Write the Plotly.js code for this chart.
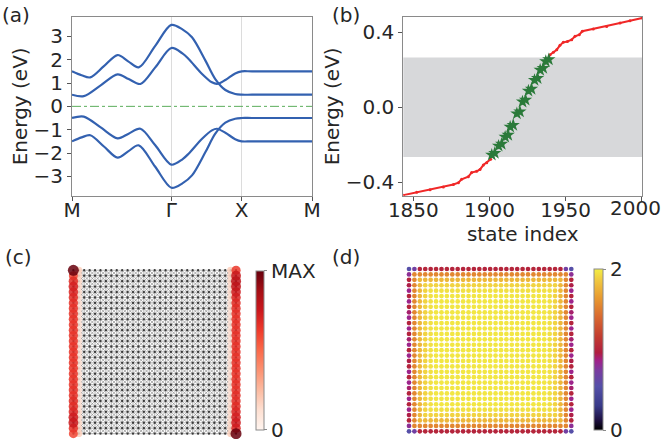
<!DOCTYPE html>
<html><head><meta charset="utf-8">
<script src="https://cdn.plot.ly/plotly-3.0.1.min.js"></script>
<style>html,body{margin:0;padding:0;background:#fff}#chart{width:664px;height:441px}</style>
</head><body><div id="chart"></div>
<script>
// ---------- (a) band structure along M-Γ-X-M ----------
const kTickVals = [0, 0.4142, 0.7071, 1.0];
const kTickText = ['M', 'Γ', 'X', 'M'];
const kBand1 = [0, 0.04, 0.076, 0.133, 0.19, 0.234, 0.278, 0.346, 0.414, 0.46, 0.5, 0.556, 0.597, 0.639, 0.68, 0.707, 0.75, 1.0];
const band1  = [1.50, 1.33, 1.24, 1.72, 2.20, 1.93, 1.67, 2.58, 3.49, 3.30, 2.96, 1.96, 1.17, 0.70, 0.53, 0.50, 0.50, 0.50];
const kBand2 = [0, 0.049, 0.118, 0.19, 0.236, 0.285, 0.347, 0.414, 0.46, 0.486, 0.542, 0.583, 0.604, 0.639, 0.68, 0.707, 0.75, 1.0];
const band2  = [0.50, 0.44, 0.89, 1.37, 1.17, 0.96, 1.67, 2.50, 2.27, 2.03, 1.39, 1.03, 0.96, 1.13, 1.41, 1.50, 1.50, 1.50];
const band3  = [-0.50, -0.44, -0.89, -1.37, -1.17, -0.96, -1.67, -2.50, -2.27, -2.03, -1.39, -1.03, -0.96, -1.13, -1.41, -1.50, -1.50, -1.50];
const band4  = [-1.50, -1.33, -1.24, -1.72, -2.20, -1.93, -1.67, -2.58, -3.49, -3.30, -2.96, -1.96, -1.17, -0.70, -0.53, -0.50, -0.50, -0.50];
const fermiLevel = 0;

// ---------- (b) eigen-energies vs state index ----------
const stateLow  = [1843.4, 1852.2, 1861, 1869.7, 1876.3, 1879.6, 1881.7, 1886.1, 1888.3, 1891.6, 1893.8, 1896, 1898.2, 1900.8];
const energyLow = [-0.468, -0.453, -0.439, -0.425, -0.411, -0.402, -0.384, -0.370, -0.348, -0.341, -0.331, -0.308, -0.295, -0.277];
const stateEdge  = [1901.5, 1903.5, 1906, 1908, 1910.3, 1912.3, 1913.6, 1915.6, 1918, 1920, 1921.7, 1923.7, 1925.6, 1927.6, 1929.6, 1931.6, 1933.3, 1935.3, 1937, 1939];
const energyEdge = [-0.254, -0.244, -0.206, -0.196, -0.158, -0.148, -0.105, -0.095, -0.034, -0.024, 0.029, 0.039, 0.087, 0.097, 0.144, 0.154, 0.198, 0.208, 0.244, 0.254];
const stateHigh  = [1939.8, 1942, 1944.2, 1946.3, 1948.5, 1951.2, 1954, 1956.2, 1959, 1961, 1968.2, 1977, 1985.8, 1992.3, 2000.4];
const energyHigh = [0.279, 0.292, 0.306, 0.329, 0.345, 0.350, 0.359, 0.377, 0.386, 0.404, 0.416, 0.430, 0.448, 0.460, 0.475];
const gapWindow = [-0.265, 0.265];
const bTickVals = [-0.4, 0.0, 0.4];
const bTickText = ['−0.4', '0.0', '0.4'];
const bXTickVals = [1850, 1900, 1950, 2000];
const bXTickText = ['1850', '1900', '1950', ''];   // last label drawn as an edge-aligned annotation
const bXLastLabel = '2000';

// ---------- (c) corner-state amplitude on 31x31 lattice ----------
const latticeSize = 31;
// amplitudes (fraction of MAX), rows listed top -> bottom
const cLeftCol   = [1.0, 0.6, 0.68, 0.72, 0.7, 0.68, 0.66, 0.66, 0.66, 0.65, 0.65, 0.65, 0.65, 0.65, 0.65, 0.65, 0.65, 0.65, 0.65, 0.65, 0.65, 0.65, 0.66, 0.66, 0.68, 0.68, 0.7, 0.74, 0.76, 0.66, 0.6];
const cSecondCol = [0.18, 0.16, 0.15, 0.14, 0.14, 0.13, 0.12, 0.12, 0.12, 0.12, 0.12, 0.12, 0.12, 0.12, 0.12, 0.12, 0.12, 0.12, 0.12, 0.12, 0.12, 0.12, 0.12, 0.12, 0.12, 0.13, 0.14, 0.14, 0.15, 0.16, 0.18];
const cRightCol  = [0.64, 0.76, 0.8, 0.78, 0.74, 0.7, 0.68, 0.67, 0.66, 0.66, 0.66, 0.66, 0.66, 0.66, 0.66, 0.66, 0.66, 0.66, 0.66, 0.66, 0.66, 0.66, 0.66, 0.67, 0.67, 0.68, 0.7, 0.72, 0.74, 0.7, 1.0];
const cPenultCol = [0.18, 0.16, 0.15, 0.14, 0.14, 0.13, 0.12, 0.12, 0.12, 0.12, 0.12, 0.12, 0.12, 0.12, 0.12, 0.12, 0.12, 0.12, 0.12, 0.12, 0.12, 0.12, 0.12, 0.12, 0.12, 0.13, 0.14, 0.14, 0.15, 0.16, 0.18];
const cTickText = ['0', 'MAX'];

// ---------- (d) local quantity (0..2) on 31x31 lattice ----------
const dTopBottomRow = [0.55, 0.7, 1.0, 1.02, 1.0, 1.02, 1.0, 1.02, 1.0, 1.02, 1.0, 1.02, 1.0, 1.02, 1.0, 1.02, 1.0, 1.02, 1.0, 1.02, 1.0, 1.02, 1.0, 1.02, 1.0, 1.02, 1.0, 1.02, 1.0, 0.7, 0.55];
const dSideCol = [0.55, 0.8, 1.0, 0.95, 0.85, 1.0, 0.85, 1.0, 0.9, 0.85, 1.0, 0.85, 1.0, 0.9, 0.85, 1.0, 0.85, 0.95, 1.0, 0.85, 1.0, 0.85, 0.9, 1.0, 0.85, 1.0, 0.85, 0.95, 1.0, 0.8, 0.55];
const dRingValues = [1.55, 1.78, 1.9, 1.95, 1.97]; // rings 1,2,3,4,>=5 from the edge
const dTickText = ['0', '2'];

// ---------- styling ----------
const FONT = 'DejaVu Sans, sans-serif';
const TXT = '#262626';
const FS = 20;
const bandColor = '#3361b0';
const redsScale = [[0,'#fff5f0'],[0.125,'#fee0d2'],[0.25,'#fcbba1'],[0.375,'#fc9272'],[0.5,'#fb6a4a'],[0.625,'#ef3b2c'],[0.75,'#cb181d'],[0.875,'#a50f15'],[1,'#67000d']];
const dScale = [[0,'#000000'],[0.06,'#1e1040'],[0.15,'#383a88'],[0.27,'#5450a8'],[0.37,'#7a3ca0'],[0.43,'#a0228a'],[0.48,'#b01e40'],[0.58,'#c23c30'],[0.7,'#d86830'],[0.82,'#e89a30'],[0.93,'#f0c840'],[1,'#f2ee44']];

const traces = [];
// (a)
[[kBand1, band1], [kBand2, band2], [kBand2, band3], [kBand1, band4]].forEach(([k, e]) => {
  traces.push({x: k, y: e, xaxis: 'x', yaxis: 'y', mode: 'lines', line: {color: bandColor, width: 2.2, shape: 'spline', smoothing: 0.9}, hoverinfo: 'skip', showlegend: false});
});
traces.push({x: [0, 1], y: [fermiLevel, fermiLevel], xaxis: 'x', yaxis: 'y', mode: 'lines', line: {color: '#5aad5a', width: 1, dash: 'dashdot'}, showlegend: false});

// (b)
traces.push({x: stateLow, y: energyLow, xaxis: 'x2', yaxis: 'y2', mode: 'lines+markers', line: {color: '#f02828', width: 2}, marker: {color: '#f02828', size: 3}, showlegend: false});
traces.push({x: stateHigh, y: energyHigh, xaxis: 'x2', yaxis: 'y2', mode: 'lines+markers', line: {color: '#f02828', width: 2}, marker: {color: '#f02828', size: 3}, showlegend: false});
traces.push({x: stateEdge, y: energyEdge, xaxis: 'x2', yaxis: 'y2', mode: 'markers', marker: {color: '#2b7a3a', size: 10, symbol: 'star', line: {width: 0}}, showlegend: false});

// (c) lattice mesh
const L = latticeSize - 1;
const hvX = [], hvY = [], dgX = [], dgY = [], siteX = [], siteY = [];
for (let j = 0; j <= L; j++) { hvX.push(0, L, null); hvY.push(j, j, null); hvX.push(j, j, null); hvY.push(0, L, null); }
for (let k = -L; k <= L; k++) {
  const x0 = Math.max(0, k), x1 = Math.min(L, L + k);
  dgX.push(x0, x1, null); dgY.push(x0 - k, x1 - k, null);
}
for (let s = 0; s <= 2 * L; s++) {
  const x0 = Math.max(0, s - L), x1 = Math.min(L, s);
  dgX.push(x0, x1, null); dgY.push(s - x0, s - x1, null);
}
for (let i = 0; i <= L; i++) for (let j = 0; j <= L; j++) { siteX.push(i); siteY.push(j); }
traces.push({x: hvX, y: hvY, xaxis: 'x3', yaxis: 'y3', mode: 'lines', line: {color: '#bdbdbd', width: 1.2}, hoverinfo: 'skip', showlegend: false});
traces.push({x: dgX, y: dgY, xaxis: 'x3', yaxis: 'y3', mode: 'lines', line: {color: '#707070', width: 0.55}, hoverinfo: 'skip', showlegend: false});
traces.push({x: siteX, y: siteY, xaxis: 'x3', yaxis: 'y3', mode: 'markers', marker: {color: '#3a3a3a', size: 2.3}, hoverinfo: 'skip', showlegend: false});
// (c) amplitudes
let cPts = [];
for (let r = 0; r <= L; r++) {
  cPts.push([0, L - r, cLeftCol[r]], [1, L - r, cSecondCol[r]], [L - 1, L - r, cPenultCol[r]], [L, L - r, cRightCol[r]]);
}
cPts.sort((a, b) => a[2] - b[2]);
traces.push({x: cPts.map(p => p[0]), y: cPts.map(p => p[1]), xaxis: 'x3', yaxis: 'y3', mode: 'markers',
  marker: {color: cPts.map(p => p[2]), size: cPts.map(p => 6 + 5 * p[2]), opacity: 0.85, colorscale: redsScale, cmin: 0, cmax: 1, line: {width: 0},
    showscale: true,
    colorbar: {x: 256 / 664, xanchor: 'left', y: 1 - 350.2 / 441, yanchor: 'middle', len: 158.5, lenmode: 'pixels', thickness: 8, thicknessmode: 'pixels', xpad: 0, ypad: 0,
      outlinewidth: 1, outlinecolor: '#8a8a8a', tickvals: [0, 1], ticktext: cTickText, ticks: 'outside', ticklen: 3, tickcolor: '#8a8a8a', ticklabeloverflow: 'allow',
      tickfont: {family: FONT, size: FS, color: TXT}}},
  showlegend: false});

// (d)
const dX = [], dY = [], dV = [];
for (let r = 0; r <= L; r++) for (let c = 0; c <= L; c++) {
  let v;
  if (r === 0 || r === L) v = dTopBottomRow[c];
  else if (c === 0 || c === L) v = dSideCol[r];
  else { const ring = Math.min(r, c, L - r, L - c); v = dRingValues[Math.min(ring, dRingValues.length) - 1]; }
  dX.push(c); dY.push(L - r); dV.push(v);
}
traces.push({x: dX, y: dY, xaxis: 'x4', yaxis: 'y4', mode: 'markers',
  marker: {color: dV, size: 4.7, colorscale: dScale, cmin: 0, cmax: 2, line: {width: 0}, showscale: true,
    colorbar: {x: 594 / 664, xanchor: 'left', y: 1 - 349.8 / 441, yanchor: 'middle', len: 161, lenmode: 'pixels', thickness: 9, thicknessmode: 'pixels', xpad: 0, ypad: 0,
      outlinewidth: 1, outlinecolor: '#8a8a8a', tickvals: [0, 2], ticktext: dTickText, ticks: 'outside', ticklen: 3, tickcolor: '#8a8a8a', ticklabeloverflow: 'allow',
      tickfont: {family: FONT, size: FS, color: TXT}}},
  showlegend: false});

const axBase = {showline: true, mirror: true, linecolor: '#8a8a8a', linewidth: 1, ticks: 'outside', ticklen: 4, tickcolor: '#555', tickfont: {family: FONT, size: FS, color: TXT}, zeroline: false, fixedrange: true, ticklabeloverflow: 'allow'};
const yDom = [1 - 195.7 / 441, 1 - 17 / 441];
const layout = {
  width: 664, height: 441, margin: {l: 0, r: 0, t: 0, b: 0}, paper_bgcolor: '#fff', plot_bgcolor: '#fff', showlegend: false,
  font: {family: FONT, size: FS, color: TXT},
  xaxis: Object.assign({}, axBase, {domain: [72 / 664, 312 / 664], range: [0, 1], tickvals: kTickVals, ticktext: kTickText, showgrid: true, gridcolor: '#dcdcdc', gridwidth: 1.5, anchor: 'y', ticklabelstandoff: -8}),
  yaxis: Object.assign({}, axBase, {domain: yDom, range: [-3.83, 3.83], tickvals: [-3, -2, -1, 0, 1, 2, 3], ticktext: ['−3', '−2', '−1', '0', '1', '2', '3'], showgrid: false, anchor: 'x',
    title: {text: 'Energy (eV)', font: {family: FONT, size: FS, color: TXT}, standoff: 0}}),
  xaxis2: Object.assign({}, axBase, {domain: [403.3 / 664, 642.3 / 664], range: [1843.4, 2000.4], tickvals: bXTickVals, ticktext: bXTickText, showgrid: false, anchor: 'y2', ticklabelstandoff: -8,
    title: {text: 'state index', font: {family: FONT, size: FS, color: TXT}, standoff: 0}}),
  yaxis2: Object.assign({}, axBase, {domain: yDom, range: [-0.471, 0.48], tickvals: bTickVals, ticktext: bTickText, showgrid: false, anchor: 'x2',
    title: {text: 'Energy (eV)', font: {family: FONT, size: FS, color: TXT}, standoff: 0}}),
  xaxis3: {domain: [62.5 / 664, 246.9 / 664], range: [-2, 32], visible: false, fixedrange: true, anchor: 'y3'},
  yaxis3: {domain: [1 - 439.1 / 441, 1 - 262.1 / 441], range: [-1, 31.5], visible: false, fixedrange: true, anchor: 'x3'},
  xaxis4: {domain: [403.6 / 664, 576.7 / 664], range: [-1, 31], visible: false, fixedrange: true, anchor: 'y4'},
  yaxis4: {domain: [1 - 436.7 / 441, 1 - 263.6 / 441], range: [-1, 31], visible: false, fixedrange: true, anchor: 'x4'},
  shapes: [{type: 'rect', xref: 'x2 domain', x0: 0, x1: 1, yref: 'y2', y0: gapWindow[0], y1: gapWindow[1], fillcolor: '#d7d8da', line: {width: 0}, layer: 'below'}],
  annotations: [
    {text: '(a)', x: 0, y: 1 - 15 / 441, xref: 'paper', yref: 'paper', xanchor: 'left', yanchor: 'middle', showarrow: false},
    {text: '(b)', x: 330 / 664, y: 1 - 15 / 441, xref: 'paper', yref: 'paper', xanchor: 'left', yanchor: 'middle', showarrow: false},
    {text: '(c)', x: 3 / 664, y: 1 - 257 / 441, xref: 'paper', yref: 'paper', xanchor: 'left', yanchor: 'middle', showarrow: false},
    {text: '(d)', x: 330 / 664, y: 1 - 257 / 441, xref: 'paper', yref: 'paper', xanchor: 'left', yanchor: 'middle', showarrow: false},
    {text: bXLastLabel, x: 663 / 664, y: 1 - 208 / 441, xref: 'paper', yref: 'paper', xanchor: 'right', yanchor: 'middle', showarrow: false}
  ]
};
Plotly.newPlot('chart', traces, layout, {staticPlot: true, displayModeBar: false});
</script></body></html>
